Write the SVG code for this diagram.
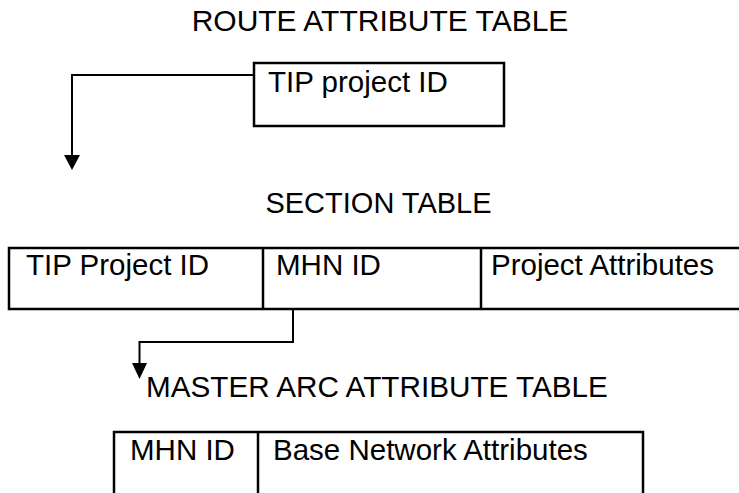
<svg xmlns="http://www.w3.org/2000/svg" width="739" height="493" viewBox="0 0 739 493">
<style>
text{font-family:"Liberation Sans",Arial,sans-serif;font-size:29.5px;fill:#000}
.box{fill:#fff;stroke:#000;stroke-width:2.5}
.div{stroke:#000;stroke-width:2.5}
.conn{fill:none;stroke:#000;stroke-width:2}
.head{fill:#000}
</style>
<rect width="739" height="493" fill="#fff"/>
<g id="route-title"><text x="380" y="31" text-anchor="middle" style="font-size:30px">ROUTE ATTRIBUTE TABLE</text></g>
<g id="route-table">
<rect class="box" x="254" y="63" width="250" height="63"/>
<text x="268" y="92">TIP project ID</text>
</g>
<g id="section-title"><text x="378.5" y="213" text-anchor="middle" style="font-size:29px">SECTION TABLE</text></g>
<g id="section-table">
<rect class="box" x="9" y="248" width="740" height="61"/>
<line class="div" x1="263" y1="248" x2="263" y2="309"/>
<line class="div" x1="481" y1="248" x2="481" y2="309"/>
<text x="26" y="275">TIP Project ID</text>
<text x="276" y="275">MHN ID</text>
<text x="491" y="275">Project Attributes</text>
</g>
<g id="master-title"><text x="146" y="397" style="font-size:29.7px">MASTER ARC ATTRIBUTE TABLE</text></g>
<g id="master-table">
<rect class="box" x="114" y="432" width="529" height="80"/>
<line class="div" x1="258" y1="432" x2="258" y2="493"/>
<text x="130" y="460">MHN ID</text>
<text x="273" y="460">Base Network Attributes</text>
</g>
<g id="connectors">
<polyline class="conn" points="254,75 72,75 72,157"/>
<polygon class="head" points="64,155 80,155 72,170"/>
<polyline class="conn" points="293,309 293,342 139.5,342 139.5,365"/>
<polygon class="head" points="132,363 147,363 139.5,379"/>
</g>
</svg>
